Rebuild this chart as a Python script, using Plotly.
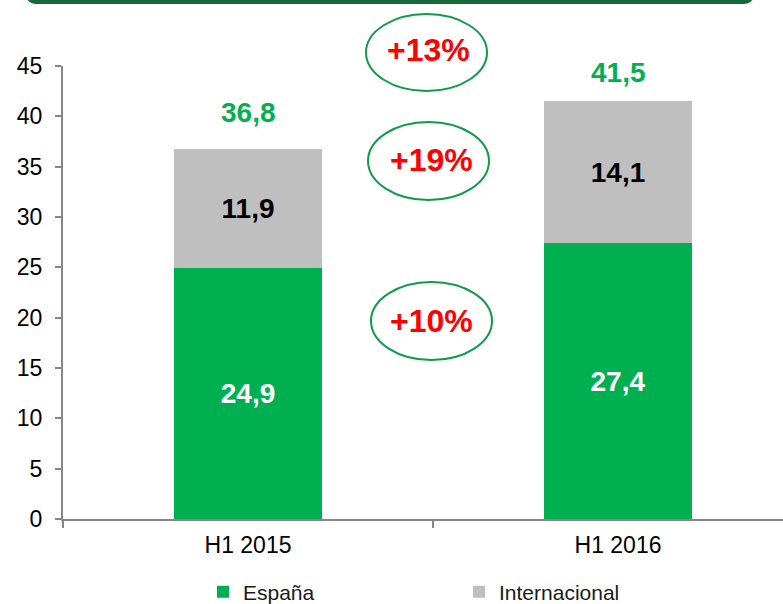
import plotly.graph_objects as go

# ---- data ----
categories = ["H1 2015", "H1 2016"]
espana = [24.9, 27.4]
internacional = [11.9, 14.1]
totals = [36.8, 41.5]
growth_labels = ["+13%", "+19%", "+10%"]
y_tick_vals = [0, 5, 10, 15, 20, 25, 30, 35, 40, 45]

# ---- geometry (pixels) ----
W, H = 783, 604
L, T, B, R = 63, 66, 85, 0
PW = W - L - R
PH = H - T - B
CAT_PX = 370.0


def pxx(px):
    return (px - L) / PW


def pxy(py):
    return (H - B - py) / PH


GREEN = "#00b050"
GREY = "#bfbfbf"
AXIS = "#868686"
FONT = "Arial, Liberation Sans, sans-serif"

fig = go.Figure()
fig.add_trace(go.Bar(
    name="España", x=categories, y=espana, width=0.4,
    marker=dict(color=GREEN, line=dict(width=0)),
    texttemplate="%{y:.1f}", textposition="inside", insidetextanchor="middle",
    textfont=dict(color="white", size=28, family=FONT, weight="bold"),
    textangle=0,
))
fig.add_trace(go.Bar(
    name="Internacional", x=categories, y=internacional, width=0.4,
    marker=dict(color=GREY, line=dict(width=0)),
    texttemplate="%{y:.1f}", textposition="inside", insidetextanchor="middle",
    textfont=dict(color="black", size=28, family=FONT, weight="bold"),
    textangle=0,
))

annotations = []
total_shifts = [36, 29]
for c, t, s in zip(categories, totals, total_shifts):
    annotations.append(dict(
        x=c, y=t, xref="x", yref="y", text=f"{t:.1f}".replace(".", ","),
        showarrow=False, yshift=s, yanchor="middle",
        font=dict(color=GREEN, size=28, family=FONT, weight="bold"),
    ))

# growth ellipses (pixel boxes) and labels
ellipse_boxes = [(366, 14, 487, 91), (368, 122, 489, 200), (371, 282, 492, 360)]
label_centers = [(428, 50), (431, 160), (431, 321)]
shapes = []
for (x0, y0, x1, y1), (cx, cy), lab in zip(ellipse_boxes, label_centers, growth_labels):
    shapes.append(dict(
        type="circle", xref="paper", yref="paper",
        x0=pxx(x0), x1=pxx(x1), y0=pxy(y1), y1=pxy(y0),
        line=dict(color="#109a4a", width=2), fillcolor="rgba(0,0,0,0)", layer="above",
    ))
    annotations.append(dict(
        x=pxx(cx), y=pxy(cy), xref="paper", yref="paper", text=lab,
        showarrow=False, xanchor="center", yanchor="middle",
        font=dict(color="#ff0000", size=32, family=FONT, weight="bold"),
    ))

# top rounded box (only its bottom edge visible)
bx0, bx1, by0, by1, r = 28, 752, -40, 2, 9
def P(x, y):
    return f"{pxx(x):.5f},{pxy(y):.5f}"
path = (f"M {P(bx0, by0)} L {P(bx0, by1 - r)} Q {P(bx0, by1)} {P(bx0 + r, by1)} "
        f"L {P(bx1 - r, by1)} Q {P(bx1, by1)} {P(bx1, by1 - r)} L {P(bx1, by0)} Z")
shapes.append(dict(type="path", xref="paper", yref="paper", path=path,
                   line=dict(color="#17693a", width=4), fillcolor="white", layer="above"))

fig.update_layout(
    width=W, height=H,
    margin=dict(l=L, r=R, t=T, b=B, autoexpand=False),
    barmode="stack",
    separators=",.",
    paper_bgcolor="white", plot_bgcolor="white",
    font=dict(family=FONT, size=23, color="black"),
    showlegend=True,
    legend=dict(
        orientation="h", x=pxx(203), xanchor="left", y=pxy(592), yanchor="middle",
        font=dict(size=21, family=FONT, color="#1a1a1a"),
        entrywidth=211, entrywidthmode="pixels", itemwidth=30,
        traceorder="normal", bgcolor="rgba(0,0,0,0)",
    ),
    xaxis=dict(
        range=[-0.5, -0.5 + PW / CAT_PX], showline=True, linecolor=AXIS, linewidth=2,
        ticks="outside", tickson="boundaries", ticklen=7, tickcolor=AXIS, tickwidth=1.5,
        showgrid=False, zeroline=False, tickfont=dict(size=23), ticklabelstandoff=4,
        automargin=False,
    ),
    yaxis=dict(
        range=[0, 45], tickvals=y_tick_vals, showline=True, linecolor=AXIS, linewidth=2,
        ticks="outside", ticklen=6, tickcolor=AXIS, tickwidth=1.5,
        showgrid=False, zeroline=False, tickfont=dict(size=23), ticklabelstandoff=8,
        automargin=False,
    ),
    annotations=annotations,
    shapes=shapes,
)

fig.write_html(
    "out.html",
    config={"displayModeBar": False},
    post_script="document.body.style.margin='0';document.body.style.overflow='hidden';",
)
